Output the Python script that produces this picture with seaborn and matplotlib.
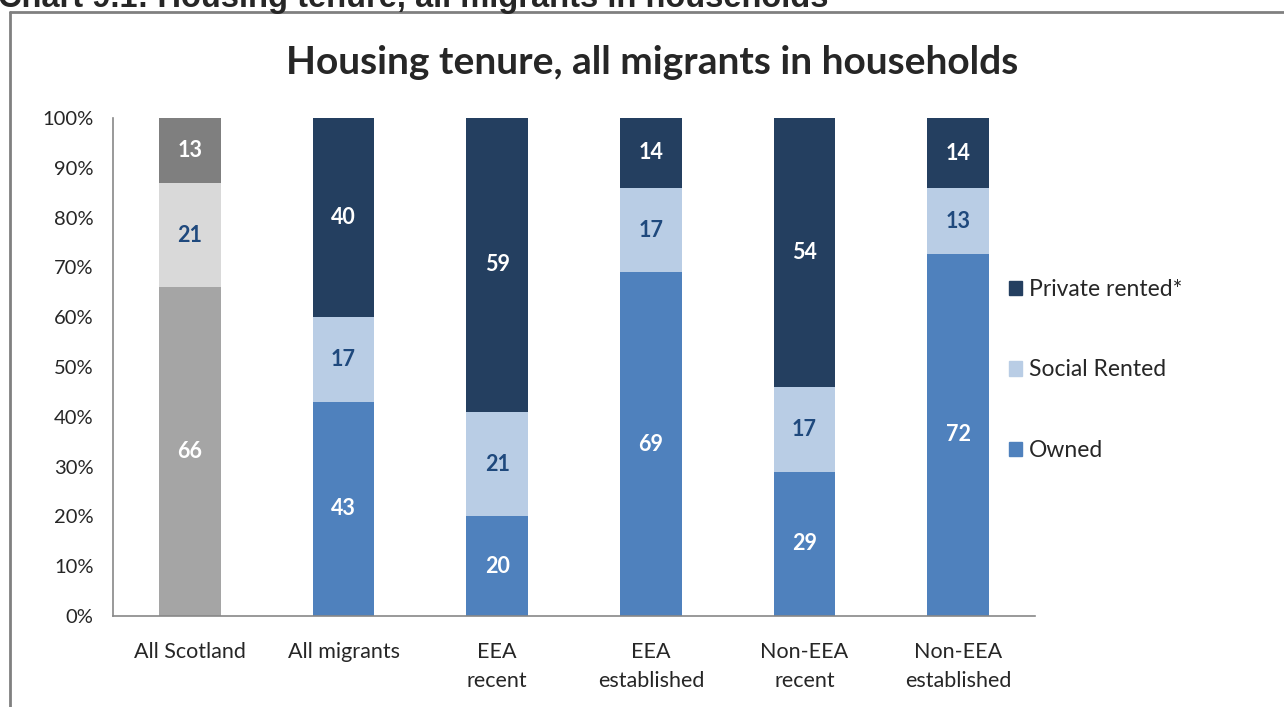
import pandas as pd
import matplotlib.pyplot as plt
import matplotlib.patches as mpatches
from matplotlib.lines import Line2D
import seaborn as sns

# 데이터
categories = ["All Scotland", "All migrants", "EEA\nrecent", "EEA\nestablished",
              "Non-EEA\nrecent", "Non-EEA\nestablished"]
owned = [66, 43, 20, 69, 29, 72]
social_rented = [21, 17, 21, 17, 17, 13]
private_rented = [13, 40, 59, 14, 54, 14]

# 색상
owned_colors = ["#A5A5A5"] + ["#4F81BD"] * 5
social_colors = ["#D9D9D9"] + ["#B9CDE5"] * 5
private_colors = ["#7F7F7F"] + ["#243F60"] * 5
label_dark = "#1F497D"

df = pd.DataFrame({"category": categories, "owned": owned,
                   "social": social_rented, "private": private_rented})
total = df["owned"] + df["social"] + df["private"]
df["p_owned"] = df["owned"] / total * 100
df["p_social"] = df["social"] / total * 100
df["p_private"] = df["private"] / total * 100
df["cum_social"] = df["p_owned"] + df["p_social"]
df["cum_private"] = df["cum_social"] + df["p_private"]

sns.set_style("white")
plt.rcParams['font.family'] = ['Lato', 'DejaVu Sans']

fig = plt.figure(figsize=(12.84, 7.07), dpi=100)
ax = fig.add_axes([113 / 1284, 91 / 707, 922 / 1284, 498 / 707])

# 누적 막대 (뒤에서부터 겹쳐 그리기)
for col, pal in [("cum_private", private_colors), ("cum_social", social_colors),
                 ("p_owned", owned_colors)]:
    sns.barplot(data=df, x="category", y=col, hue="category", palette=pal,
                width=0.4, legend=False, ax=ax, saturation=1, linewidth=0)

# 값 라벨
for i, row in df.iterrows():
    ax.text(i, row["p_owned"] / 2, f"{row['owned']}", ha="center", va="center",
            color="white", fontsize=15.5, fontweight="bold")
    ax.text(i, row["p_owned"] + row["p_social"] / 2, f"{row['social']}", ha="center",
            va="center", color=label_dark, fontsize=15.5, fontweight="bold")
    ax.text(i, row["cum_social"] + row["p_private"] / 2, f"{row['private']}", ha="center",
            va="center", color="white", fontsize=15.5, fontweight="bold")

ax.set_ylim(0, 100)
ax.set_xlim(-0.5, len(categories) - 0.5)
ax.set_yticks(range(0, 101, 10))
ax.set_yticklabels([f"{v}%" for v in range(0, 101, 10)], fontsize=14.5)
ax.set_xticks([i - 0.5 for i in range(len(categories) + 1)])
ax.set_xticklabels([])
ax.set_xticks(range(len(categories)), minor=True)
ax.set_xticklabels(categories, minor=True, fontsize=15.5, linespacing=1.55)
ax.tick_params(axis="x", which="major", length=8, color="#888888", direction="out")
ax.tick_params(axis="x", which="minor", length=0, pad=19)
ax.tick_params(axis="y", length=7, color="#888888", direction="out", pad=7)
ax.set_xlabel("")
ax.set_ylabel("")
for side in ["top", "right"]:
    ax.spines[side].set_visible(False)
for side in ["left", "bottom"]:
    ax.spines[side].set_color("#888888")
    ax.spines[side].set_linewidth(1.2)

# 범례
handles = [mpatches.Patch(color="#243F60", label="Private rented*"),
           mpatches.Patch(color="#B9CDE5", label="Social Rented"),
           mpatches.Patch(color="#4F81BD", label="Owned")]
fig.legend(handles=handles, loc="center left", bbox_to_anchor=(988 / 1284, 1 - 370 / 707),
           frameon=False, fontsize=16.5, handlelength=0.6, handleheight=0.6,
           handletextpad=0.3, labelspacing=2.6)

# 제목
fig.text(652 / 1284, 1 - 62 / 707, "Housing tenure, all migrants in households",
         ha="center", va="center", fontsize=28, fontweight="bold")
fig.text(-2 / 1284, 1 - 7 / 707, "Chart 9.1: Housing tenure, all migrants in households",
         ha="left", va="baseline", fontsize=23.5, fontweight="bold",
         family=["Liberation Sans", "DejaVu Sans"])

# 테두리
fig.add_artist(Line2D([10.5 / 1284, 10.5 / 1284], [0, 1 - 12 / 707],
                      transform=fig.transFigure, color="#808080", linewidth=2))
fig.add_artist(Line2D([10 / 1284, 1], [1 - 12 / 707, 1 - 12 / 707],
                      transform=fig.transFigure, color="#808080", linewidth=2))

fig.savefig("out.png", dpi=100)
